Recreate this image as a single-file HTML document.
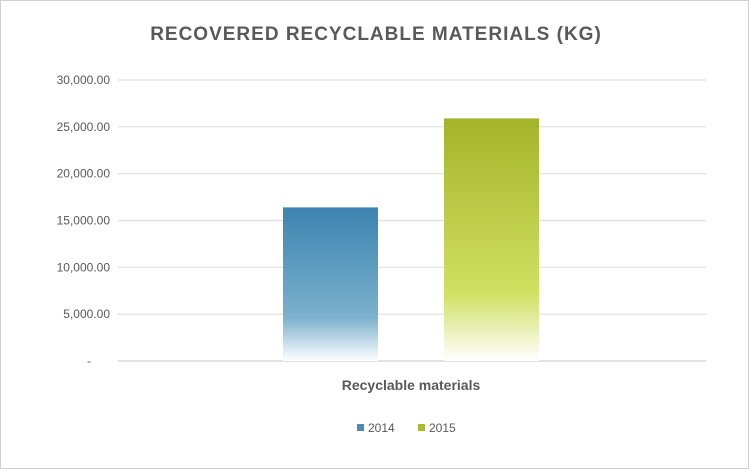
<!DOCTYPE html>
<html><head><meta charset="utf-8"><style>
body{margin:0;background:#fff;}
svg{display:block;font-family:"Liberation Sans",sans-serif;}
</style></head><body>
<svg id="chart" width="750" height="471">
<defs>
<linearGradient id="gb" x1="0" y1="0" x2="0" y2="1">
<stop offset="0" stop-color="#3c84b0"/><stop offset="0.72" stop-color="#7cb1ce"/><stop offset="1" stop-color="#ffffff"/>
</linearGradient>
<linearGradient id="gg" x1="0" y1="0" x2="0" y2="1">
<stop offset="0" stop-color="#a3b42a"/><stop offset="0.72" stop-color="#d0e062"/><stop offset="1" stop-color="#ffffff"/>
</linearGradient>
</defs>
<rect x="0.5" y="0.5" width="748" height="468" fill="#fff" stroke="#d0d0d0"/>
<text x="376" y="40" text-anchor="middle" font-size="19" font-weight="bold" fill="#595959" letter-spacing="1">RECOVERED RECYCLABLE MATERIALS (KG)</text>
<g id="grid"></g><g id="bars"></g>
<text x="411" y="390" text-anchor="middle" font-size="14" font-weight="bold" fill="#595959">Recyclable materials</text>
<g>
<rect x="357" y="424" width="7" height="7" fill="#4a8cb6"/>
<text x="368" y="432" font-size="12" fill="#595959">2014</text>
<rect x="418" y="424" width="7" height="7" fill="#a9ba30"/>
<text x="429" y="432" font-size="12" fill="#595959">2015</text>
</g>
</svg>
<script>
const categories=["Recyclable materials"];
const series=["2014","2015"];
const values=[16400,25900];
const ticks=[0,5000,10000,15000,20000,25000,30000];
const tickLabels=["-","5,000.00","10,000.00","15,000.00","20,000.00","25,000.00","30,000.00"];
const NS="http://www.w3.org/2000/svg";
const x0=118,x1=706,y0=361,y1=80,ymax=30000;
const y=v=>y0-(v/ymax)*(y0-y1);
const grid=document.getElementById('grid');
ticks.forEach((t,i)=>{
 const l=document.createElementNS(NS,'line');
 l.setAttribute('x1',x0);l.setAttribute('x2',x1);l.setAttribute('y1',y(t));l.setAttribute('y2',y(t));
 l.setAttribute('stroke',t===0?'#d9d9d9':'#e0e0e0');l.setAttribute('stroke-width',t===0?1.5:1.2);
 
 
 grid.appendChild(l);
 const tx=document.createElementNS(NS,'text');
 tx.setAttribute('x',t===0?89:110);tx.setAttribute('y',y(t)+4);
 tx.setAttribute('text-anchor',t===0?'middle':'end');tx.setAttribute('font-size','12');tx.setAttribute('fill','#595959');
 tx.textContent=tickLabels[i];
 
 
 grid.appendChild(tx);
});
const bars=document.getElementById('bars');
const center=(x0+x1)/2, bw=95, gap=66;
const fills=['url(#gb)','url(#gg)'];
values.forEach((v,i)=>{
 const bx=center-(gap/2+bw)+i*(bw+gap)-1;
 const r=document.createElementNS(NS,'rect');
 r.setAttribute('x',bx);r.setAttribute('y',y(v));r.setAttribute('width',bw);r.setAttribute('height',y0-y(v));
 r.setAttribute('fill',fills[i]);
 
 
 bars.appendChild(r);
});
</script>
</body></html>
